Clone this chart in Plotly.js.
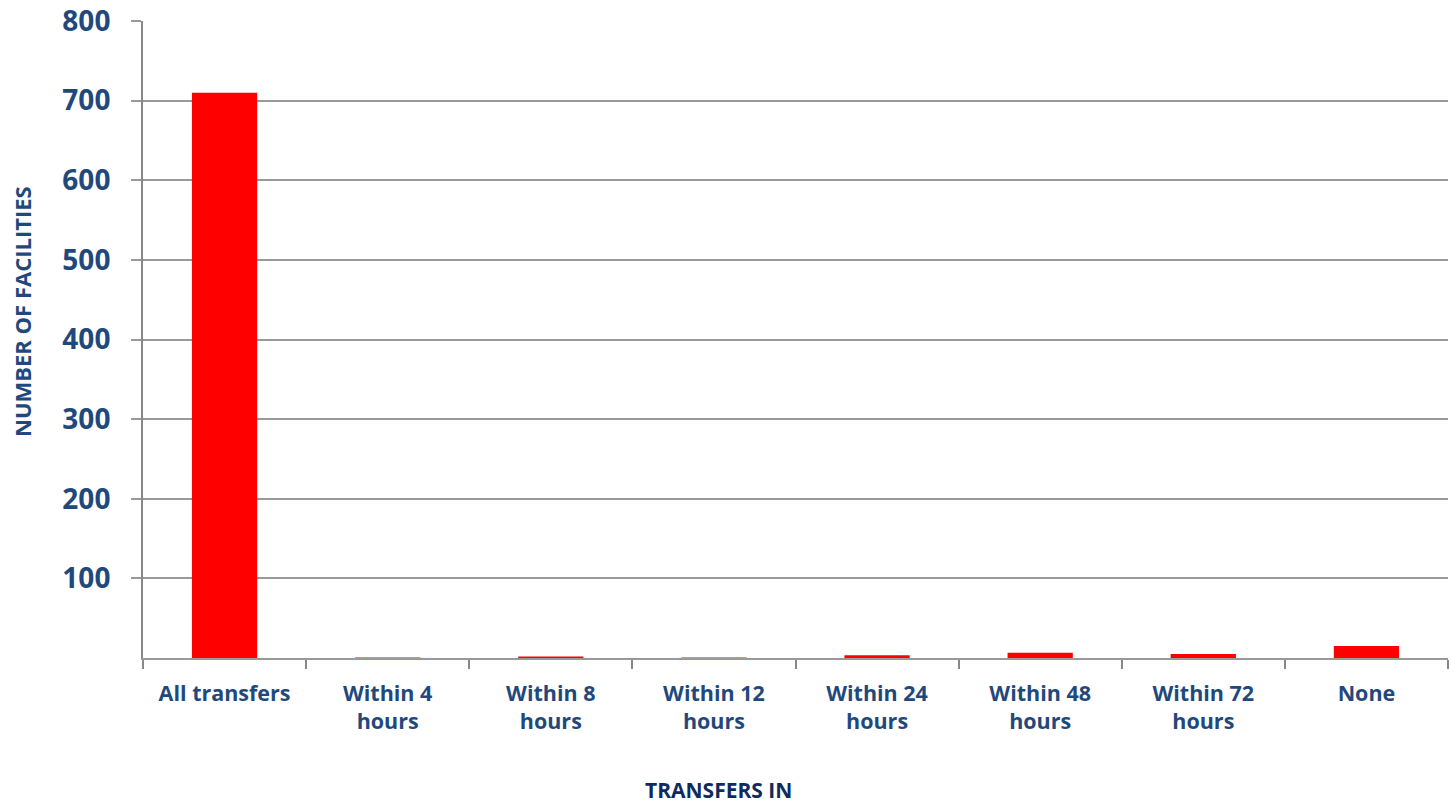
<!DOCTYPE html>
<html>
<head>
<meta charset="utf-8">
<script src="https://cdn.plot.ly/plotly-3.0.1.min.js"></script>
<style>html,body{margin:0;padding:0;background:#fff;}#chart{width:1451px;height:807px;}</style>
</head>
<body>
<div id="chart"></div>
<script>
const categories = ["All transfers", "Within 4<br>hours", "Within 8<br>hours", "Within 12<br>hours", "Within 24<br>hours", "Within 48<br>hours", "Within 72<br>hours", "None"];
const facilities = [710, 0.5, 2, 0.5, 3.5, 6.5, 5, 15];
const yTicks = [100, 200, 300, 400, 500, 600, 700, 800];
const xTitle = "TRANSFERS IN";
const yTitle = "NUMBER OF FACILITIES";

const blue = "#1F497D";
const navy = "#0F2A5E";
const trace = {
  type: "bar",
  x: categories,
  y: facilities,
  marker: {color: "#FF0000"},
  hoverinfo: "x+y"
};
const layout = {
  width: 1451, height: 807,
  margin: {l: 143, r: 3, t: 21, b: 149},
  paper_bgcolor: "#fff", plot_bgcolor: "#fff",
  bargap: 0.6,
  showlegend: false,
  font: {family: "'Open Sans', sans-serif", color: blue},
  xaxis: {
    type: "category",
    tickson: "boundaries",
    ticks: "outside", ticklen: 9, tickcolor: "#888", tickwidth: 2,
    showline: true, linecolor: "#999", linewidth: 2,
    showgrid: false,
    tickfont: {size: 21.5, color: blue, weight: "bold"},
    ticklabelstandoff: 15
  },
  yaxis: {
    range: [0, 800],
    tickvals: yTicks,
    ticks: "outside", ticklen: 10, tickcolor: "#999", tickwidth: 2,
    showline: true, linecolor: "#888", linewidth: 2,
    showgrid: true, gridcolor: "#999", gridwidth: 2,
    zeroline: false,
    tickfont: {size: 28, color: blue, weight: "bold"},
    ticklabelstandoff: 15
  },
  annotations: [
    {text: xTitle, xref: "paper", yref: "paper", x: (718 - 143) / 1305, y: (658 - 790) / 637,
     xanchor: "center", yanchor: "middle", showarrow: false,
     font: {size: 21, color: navy, weight: "bold"}},
    {text: yTitle, xref: "paper", yref: "paper", x: (22 - 143) / 1305, y: (658 - 312) / 637,
     xanchor: "center", yanchor: "middle", textangle: -90, showarrow: false,
     font: {size: 22, color: blue, weight: "bold"}}
  ]
};
Plotly.newPlot("chart", [trace], layout, {displayModeBar: false, staticPlot: true});
</script>
</body>
</html>
